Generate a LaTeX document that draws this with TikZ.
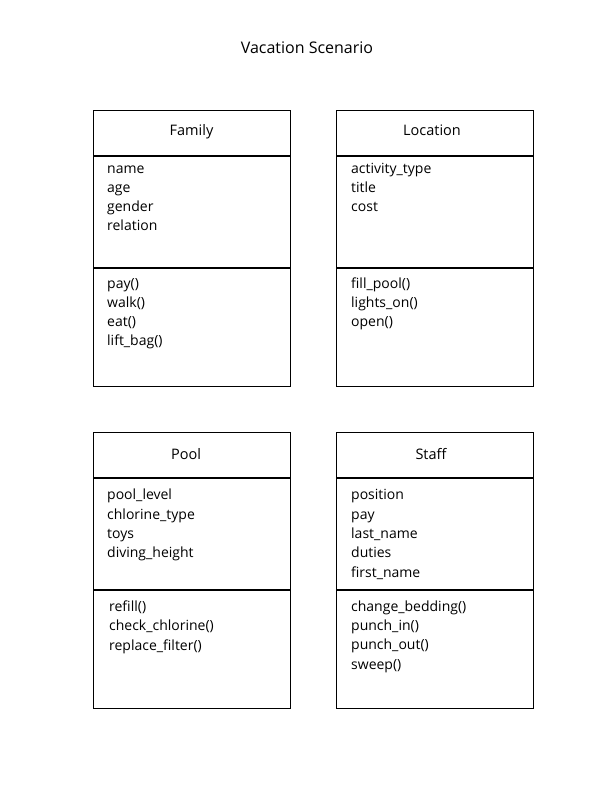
\documentclass[tikz,border=0pt]{standalone}
\usepackage{fontspec}
\setmainfont{Open Sans}
\usetikzlibrary{positioning}

\tikzset{
  part/.style={draw, line width=1pt, minimum width=197bp, inner sep=0pt, anchor=north west},
  entry/.style={anchor=base west, inner sep=0pt, font=\fontsize{14bp}{16bp}\selectfont},
  classname/.style={anchor=base, inner sep=0pt, font=\fontsize{14.5bp}{16bp}\selectfont},
}

\begin{document}
\begin{tikzpicture}[x=1bp, y=-1bp]
      \useasboundingbox (0,0) rectangle (612,792);

      \node[anchor=base, inner sep=0pt, font=\fontsize{16bp}{18bp}\selectfont] (title) at (307, 54) {Vacation Scenario};

      % Family
      \node[part, minimum height=45bp]  (famhead) at (93,110) {};
      \node[part, minimum height=111bp] (famattr) at (famhead.south west) {};
      \node[part, minimum height=118bp] (famops)  at (famattr.south west) {};
      \node[classname] (famname) at (191.5, 135.5) {Family};
      \foreach \t [count=\i] in {name,age,gender,relation} {
        \node[entry] (famattr\i) at (107, 154.5 + 19*\i) {\t};
      }
      \foreach \t [count=\i] in {pay(),walk(),eat(),lift\_bag()} {
        \node[entry] (famops\i) at (107, 269 + 19*\i) {\t};
      }

      % Location
      \node[part, minimum height=45bp]  (lochead) at (336,110) {};
      \node[part, minimum height=111bp] (locattr) at (lochead.south west) {};
      \node[part, minimum height=118bp] (locops)  at (locattr.south west) {};
      \node[classname] (locname) at (432, 135.5) {Location};
      \foreach \t [count=\i] in {activity\_type,title,cost} {
        \node[entry] (locattr\i) at (351, 154.5 + 19*\i) {\t};
      }
      \foreach \t [count=\i] in {fill\_pool(),lights\_on(),open()} {
        \node[entry] (locops\i) at (351, 269 + 19*\i) {\t};
      }

      % Pool
      \node[part, minimum height=45bp]  (poolhead) at (93,432) {};
      \node[part, minimum height=111bp] (poolattr) at (poolhead.south west) {};
      \node[part, minimum height=118bp] (poolops)  at (poolattr.south west) {};
      \node[classname] (poolname) at (186, 459.5) {Pool};
      \foreach \t [count=\i] in {pool\_level,chlorine\_type,toys,diving\_height} {
        \node[entry] (poolattr\i) at (107, 480.5 + 19.3*\i) {\t};
      }
      \foreach \t [count=\i] in {refill(),check\_chlorine(),replace\_filter()} {
        \node[entry] (poolops\i) at (109, 591.5 + 19.5*\i) {\t};
      }

      % Staff
      \node[part, minimum height=45bp]  (staffhead) at (336,432) {};
      \node[part, minimum height=111bp] (staffattr) at (staffhead.south west) {};
      \node[part, minimum height=118bp] (staffops)  at (staffattr.south west) {};
      \node[classname] (staffname) at (431, 459.5) {Staff};
      \foreach \t [count=\i] in {position,pay,last\_name,duties,first\_name} {
        \node[entry] (staffattr\i) at (351, 480.5 + 19.3*\i) {\t};
      }
      \foreach \t [count=\i] in {change\_bedding(),punch\_in(),punch\_out(),sweep()} {
        \node[entry] (staffops\i) at (351, 592 + 19.3*\i) {\t};
      }
    \end{tikzpicture}
\end{document}
